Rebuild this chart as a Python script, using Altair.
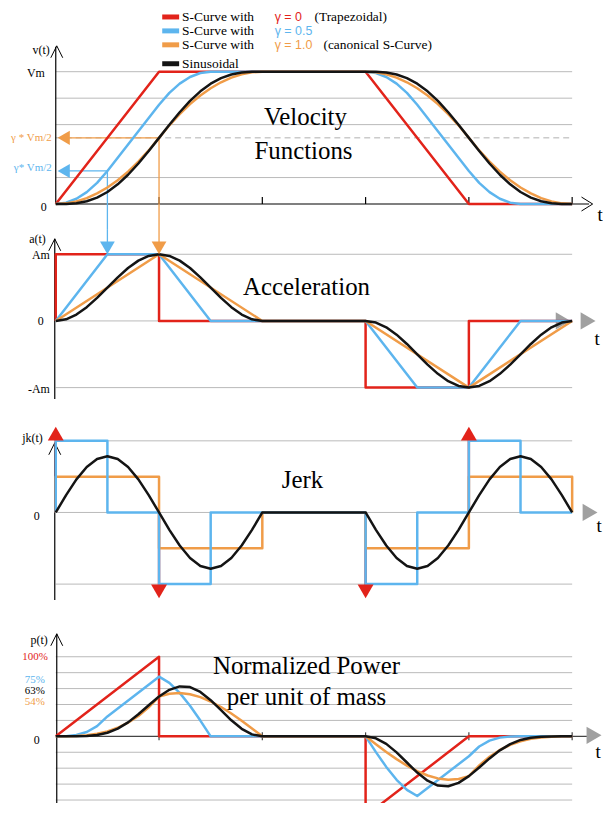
import altair as alt
import pandas as pd

# ---------------- data (time in units of the accel phase, values normalised) ----------------
T_FULL = [0.0, 0.1, 0.2, 0.3, 0.4, 0.5, 0.6, 0.7, 0.8, 0.9, 1.0, 1.1, 1.2, 1.3, 1.4, 1.5, 1.6, 1.7, 1.8, 1.9, 2.0,
          3.0, 3.1, 3.2, 3.3, 3.4, 3.5, 3.6, 3.7, 3.8, 3.9, 4.0, 4.1, 4.2, 4.3, 4.4, 4.5, 4.6, 4.7, 4.8, 4.9, 5.0]

# velocity
VEL_RED_T = [0, 1, 3, 4, 5]
VEL_RED = [0, 1, 1, 0, 0]
VEL_BLUE_T = [0, 0.1, 0.2, 0.3, 0.4, 0.5, 1.0, 1.1, 1.2, 1.3, 1.4, 1.5,
              3.0, 3.1, 3.2, 3.3, 3.4, 3.5, 4.0, 4.1, 4.2, 4.3, 4.4, 4.5, 5.0]
VEL_BLUE = [0, 0.01, 0.04, 0.09, 0.16, 0.25, 0.75, 0.84, 0.91, 0.96, 0.99, 1.0,
            1.0, 0.99, 0.96, 0.91, 0.84, 0.75, 0.25, 0.16, 0.09, 0.04, 0.01, 0.0, 0.0]
VEL_ORANGE = [0, 0.005, 0.02, 0.045, 0.08, 0.125, 0.18, 0.245, 0.32, 0.405, 0.5, 0.595, 0.68, 0.755, 0.82, 0.875,
              0.92, 0.955, 0.98, 0.995, 1.0,
              1.0, 0.995, 0.98, 0.955, 0.92, 0.875, 0.82, 0.755, 0.68, 0.595, 0.5, 0.405, 0.32, 0.245, 0.18, 0.125,
              0.08, 0.045, 0.02, 0.005, 0.0]
VEL_BLACK = [0, 0.0008, 0.0064, 0.0212, 0.0486, 0.0908, 0.1486, 0.2212, 0.3064, 0.4008, 0.5, 0.5992, 0.6936, 0.7788,
             0.8514, 0.9092, 0.9514, 0.9788, 0.9936, 0.9992, 1.0,
             1.0, 0.9992, 0.9936, 0.9788, 0.9514, 0.9092, 0.8514, 0.7788, 0.6936, 0.5992, 0.5, 0.4008, 0.3064,
             0.2212, 0.1486, 0.0908, 0.0486, 0.0212, 0.0064, 0.0008, 0.0]
VEL_GRID = [0.2, 0.6, 0.8, 1.0]
VEL_HALF = [0.5]
GUIDE_T = [0.5, 1.0]          # blue (gamma=0.5), orange (gamma=1)
GUIDE_V = [0.25, 0.5]         # gamma * Vm / 2

# acceleration
ACC_RED_T = [0, 0, 1, 1, 3, 3, 4, 4, 5]
ACC_RED = [0, 1, 1, 0, 0, -1, -1, 0, 0]
ACC_BLUE_T = [0, 0.5, 1.0, 1.5, 3.0, 3.5, 4.0, 4.5, 5.0]
ACC_BLUE = [0, 1, 1, 0, 0, -1, -1, 0, 0]
ACC_ORANGE_T = [0, 1, 2, 3, 4, 5]
ACC_ORANGE = [0, 1, 0, 0, -1, 0]
ACC_BLACK = [0, 0.0245, 0.0955, 0.2061, 0.3455, 0.5, 0.6545, 0.7939, 0.9045, 0.9755, 1.0, 0.9755, 0.9045, 0.7939,
             0.6545, 0.5, 0.3455, 0.2061, 0.0955, 0.0245, 0.0,
             0.0, -0.0245, -0.0955, -0.2061, -0.3455, -0.5, -0.6545, -0.7939, -0.9045, -0.9755, -1.0, -0.9755,
             -0.9045, -0.7939, -0.6545, -0.5, -0.3455, -0.2061, -0.0955, -0.0245, 0.0]
ACC_GRID = [1, 0, -1]

# jerk
JRK_BLUE_T = [0, 0, 0.5, 0.5, 1, 1, 1.5, 1.5, 3, 3, 3.5, 3.5, 4, 4, 4.5, 4.5, 5]
JRK_BLUE = [0, 2, 2, 0, 0, -2, -2, 0, 0, -2, -2, 0, 0, 2, 2, 0, 0]
JRK_ORANGE_T = [0, 0, 1, 1, 2, 2, 3, 3, 4, 4, 5, 5]
JRK_ORANGE = [0, 1, 1, -1, -1, 0, 0, -1, -1, 1, 1, 0]
JRK_BLACK = [0, 0.485, 0.923, 1.271, 1.494, 1.571, 1.494, 1.271, 0.923, 0.485, 0.0, -0.485, -0.923, -1.271, -1.494,
             -1.571, -1.494, -1.271, -0.923, -0.485, 0.0,
             0.0, -0.485, -0.923, -1.271, -1.494, -1.571, -1.494, -1.271, -0.923, -0.485, 0.0, 0.485, 0.923, 1.271,
             1.494, 1.571, 1.494, 1.271, 0.923, 0.485, 0.0]
JRK_RED_T = [0, 1, 3, 4]          # jerk impulses of the trapezoidal profile
JRK_RED_SIGN = [1, -1, -1, 1]
JRK_GRID = [2, 0, -2]

# power
PWR_RED_T = [0, 1, 1, 3, 3, 4, 5]
PWR_RED = [0, 1, 0, 0, -1, 0, 0]
PWR_BLUE_T = [0, 0.1, 0.2, 0.3, 0.4, 0.5, 1.0, 1.1, 1.2, 1.3, 1.4, 1.5,
              3.0, 3.1, 3.2, 3.3, 3.4, 3.5, 4.0, 4.1, 4.2, 4.3, 4.4, 4.5, 5.0]
PWR_BLUE = [0, 0.002, 0.016, 0.054, 0.128, 0.25, 0.75, 0.672, 0.546, 0.384, 0.198, 0.0,
            0.0, -0.198, -0.384, -0.546, -0.672, -0.75, -0.25, -0.128, -0.054, -0.016, -0.002, 0.0, 0.0]
PWR_ORANGE = [0, 0.0005, 0.004, 0.0135, 0.032, 0.0625, 0.108, 0.1715, 0.256, 0.3645, 0.5, 0.5355, 0.544, 0.5285,
              0.492, 0.4375, 0.368, 0.2865, 0.196, 0.0995, 0.0,
              0.0, -0.0995, -0.196, -0.2865, -0.368, -0.4375, -0.492, -0.5285, -0.544, -0.5355, -0.5, -0.3645,
              -0.256, -0.1715, -0.108, -0.0625, -0.032, -0.0135, -0.004, -0.0005, 0.0]
PWR_BLACK = [0, 0.0, 0.0006, 0.0044, 0.0168, 0.0454, 0.0973, 0.1756, 0.2771, 0.391, 0.5, 0.5845, 0.6274, 0.6184,
             0.5572, 0.4546, 0.3287, 0.2016, 0.0949, 0.0245, 0.0,
             0.0, -0.0245, -0.0949, -0.2016, -0.3287, -0.4546, -0.5572, -0.6184, -0.6274, -0.5845, -0.5, -0.391,
             -0.2771, -0.1756, -0.0973, -0.0454, -0.0168, -0.0044, -0.0006, 0.0, 0.0]
PWR_GRID = [1.0, 0.8, 0.6, 0.4, 0.2, -0.2, -0.4, -0.6, -0.8]

TICKS_T = [1, 2, 3, 4, 5]
T_END = 5

# ---------------- styling / layout ----------------
RED = '#e2231a'
BLUE = '#5db5ee'
ORANGE = '#f09c48'
BLACK = '#141414'
GRID = '#b9b9b9'
AGRAY = '#a0a0a0'
SERIF = "'Liberation Serif', 'Times New Roman', Times, serif"
SANS = "'Liberation Sans', Arial, sans-serif"
LW = 2.5

M = 8
W = 598
X_ZERO = 56.0
PX_T = 103.8
XS = alt.Scale(domain=[(M - X_ZERO) / PX_T, (M + W - X_ZERO) / PX_T], nice=False, zero=False)

def panel(top, h, zero, ppu):
    p = dict(top=top, h=h, zero=zero, ppu=ppu)
    p['lo'] = (zero - (top + h)) / ppu
    p['hi'] = (zero - top) / ppu
    p['ys'] = alt.Scale(domain=[p['lo'], p['hi']], nice=False, zero=False)
    return p

PV = panel(8, 220, 202.0, 133.0)
PA = panel(228, 187, 319.5, 67.0)
PJ = panel(415, 200, 512.0, 36.0)
PP = panel(615, 189, 737.0, 80.0)

ONE = pd.DataFrame({'k': [0]})


def X(f):
    return alt.X(f + ':Q', scale=XS, axis=None)


def Y(p, f):
    return alt.Y(f + ':Q', scale=p['ys'], axis=None)


def curve(p, t, y, color, width=LW):
    df = pd.DataFrame({'t': t, 'y': y, 'i': list(range(len(t)))})
    return alt.Chart(df).mark_line(color=color, strokeWidth=width, clip=True, strokeJoin='round').encode(
        x=X('t'), y=Y(p, 'y'), order=alt.Order('i:Q'))


def hrules(p, ys_, color=GRID, width=1.0, dash=None, t0=0, t1=T_END):
    df = pd.DataFrame({'y': ys_, 't0': [t0] * len(ys_), 't1': [t1] * len(ys_)})
    kw = dict(color=color, strokeWidth=width)
    if dash:
        kw['strokeDash'] = dash
    return alt.Chart(df).mark_rule(**kw).encode(x=X('t0'), x2='t1:Q', y=Y(p, 'y'))


def vrules(p, ts, y0, y1, color, width=1.0):
    df = pd.DataFrame({'t': ts, 'y0': y0, 'y1': y1})
    return alt.Chart(df).mark_rule(color=color, strokeWidth=width).encode(x=X('t'), y=Y(p, 'y0'), y2='y1:Q')


def sym(p, ts, ys_, shape, color, size, filled=True, sw=1.0):
    df = pd.DataFrame({'t': ts, 'y': ys_})
    return alt.Chart(df).mark_point(shape=shape, color=color, size=size, filled=filled, opacity=1,
                                    strokeWidth=sw).encode(x=X('t'), y=Y(p, 'y'))


def txt(p, s, x, y, size=12, color='black', font=SERIF, align='left', baseline='middle'):
    return alt.Chart(ONE).mark_text(text=s, fontSize=size, color=color, font=font, align=align,
                                    baseline=baseline).encode(x=alt.value(x - M), y=alt.value(y - p['top']))


def prule(p, x0, y0, x1, y1, color='black', width=1.0):
    return alt.Chart(ONE).mark_rule(color=color, strokeWidth=width).encode(
        x=alt.value(x0 - M), x2=alt.value(x1 - M), y=alt.value(y0 - p['top']), y2=alt.value(y1 - p['top']))


def psym(p, x, y, shape, color, size, filled=True, sw=1.0):
    return alt.Chart(ONE).mark_point(shape=shape, color=color, size=size, filled=filled, opacity=1,
                                     strokeWidth=sw).encode(x=alt.value(x - M), y=alt.value(y - p['top']))


OPEN_UP = 'M-1,1L0,-1L1,1'
OPEN_RIGHT = 'M-0.8,-1L0.8,0L-0.8,1'

# ---------------- velocity panel ----------------
gl = []
gl.append(hrules(PV, VEL_GRID))
gl.append(hrules(PV, VEL_HALF, color='#b0b0b0', dash=[6, 4]))
gl.append(prule(PV, 56, 202, 592, 202, 'black', 1.2))
gl.append(prule(PV, 56, 44, 56, 202, 'black', 1.2))
gl.append(psym(PV, 57, 49, OPEN_UP, 'black', 144, filled=False))
gl.append(psym(PV, 590, 202, OPEN_RIGHT, 'black', 196, filled=False))
gl.append(vrules(PV, TICKS_T, [0] * 5, [7 / PV['ppu']] * 5, 'black', 1.2))
# guide lines gamma*Vm/2
arrow_t = 8.0 / PX_T
guide_cols = [BLUE, ORANGE]
for gt, gv, gc in zip(GUIDE_T, GUIDE_V, guide_cols):
    gl.append(alt.Chart(pd.DataFrame({'t0': [arrow_t], 't1': [gt], 'y': [gv]})).mark_rule(color=gc, strokeWidth=1.3)
              .encode(x=X('t0'), x2='t1:Q', y=Y(PV, 'y')))
    gl.append(vrules(PV, [gt], [gv], [PV['lo']], gc, 1.3))
    gl.append(sym(PV, [arrow_t], [gv], 'triangle-left', gc, 200))
gl.append(curve(PV, VEL_RED_T, VEL_RED, RED))
gl.append(curve(PV, VEL_BLUE_T, VEL_BLUE, BLUE))
gl.append(curve(PV, T_FULL, VEL_ORANGE, ORANGE))
gl.append(curve(PV, T_FULL, VEL_BLACK, BLACK))
# labels
gl.append(txt(PV, 'v(t)', 50, 47, 12, align='right'))
gl.append(txt(PV, 'Vm', 45, 70, 12, align='right'))
gl.append(txt(PV, '0', 47, 205, 12, align='right'))
gl.append(txt(PV, 'γ * Vm/2', 52, 136, 11, ORANGE, align='right'))
gl.append(txt(PV, 'γ* Vm/2', 52, 166, 11, BLUE, align='right'))
gl.append(txt(PV, 't', 603, 213, 19, align='center'))
gl.append(txt(PV, 'Velocity', 307, 123, 25, align='center', baseline='alphabetic'))
gl.append(txt(PV, 'Functions', 305, 157, 25, align='center', baseline='alphabetic'))
# legend
leg_rows = [(14, RED, 'γ = 0', '(Trapezoidal)', 316), (28, BLUE, 'γ = 0.5', '', 0),
            (42, ORANGE, 'γ = 1.0', '(canonical S-Curve)', 325)]
for yy, cc, gtxt, extra, ex in leg_rows:
    gl.append(prule(PV, 163, yy, 180, yy, cc, 5))
    gl.append(txt(PV, 'S-Curve with', 183, yy, 13.5))
    gl.append(txt(PV, gtxt, 276, yy, 12.5, cc, font=SANS))
    if extra:
        gl.append(txt(PV, extra, ex, yy, 13.5))
gl.append(prule(PV, 163, 61, 180, 61, BLACK, 5))
gl.append(txt(PV, 'Sinusoidal', 183, 61, 13.5))
vel = alt.layer(*gl).properties(width=W, height=PV['h'])

# ---------------- acceleration panel ----------------
al = []
al.append(hrules(PA, ACC_GRID))
al.append(prule(PA, 55, 237, 55, 398, 'black', 1.2))
al.append(psym(PA, 55, 243, OPEN_UP, 'black', 144, filled=False))
al.append(psym(PA, 566, 319.5, 'triangle-right', AGRAY, 300))
al.append(psym(PA, 591, 319.5, 'triangle-right', AGRAY, 300))
tip = 1 + 6.5 / PA['ppu']
for gt, gc in zip(GUIDE_T, guide_cols):
    al.append(vrules(PA, [gt], [PA['hi']], [tip], gc, 1.3))
al.append(curve(PA, ACC_RED_T, ACC_RED, RED))
al.append(curve(PA, ACC_BLUE_T, ACC_BLUE, BLUE))
al.append(curve(PA, ACC_ORANGE_T, ACC_ORANGE, ORANGE))
al.append(curve(PA, T_FULL, ACC_BLACK, BLACK))
for gt, gc in zip(GUIDE_T, guide_cols):
    al.append(sym(PA, [gt], [tip], 'triangle-down', gc, 220))
al.append(txt(PA, 'a(t)', 46, 237, 12, align='right'))
al.append(txt(PA, 'Am', 50, 253, 12, align='right'))
al.append(txt(PA, '0', 44, 320, 12, align='right'))
al.append(txt(PA, '-Am', 50, 388, 12, align='right'))
al.append(txt(PA, 't', 600, 338, 19, align='center'))
al.append(txt(PA, 'Acceleration', 308, 293, 25, align='center', baseline='alphabetic'))
acc = alt.layer(*al).properties(width=W, height=PA['h'])

# ---------------- jerk panel ----------------
jl = []
jl.append(hrules(PJ, JRK_GRID))
jl.append(prule(PJ, 55, 442, 55, 600, 'black', 1.2))
jl.append(psym(PJ, 55, 448, OPEN_UP, 'black', 144, filled=False))
jl.append(psym(PJ, 593, 512, 'triangle-right', AGRAY, 300))
red_tip = [2.05 * s for s in JRK_RED_SIGN]
jl.append(vrules(PJ, JRK_RED_T, [0] * 4, red_tip, RED, 2.4))
jl.append(curve(PJ, JRK_ORANGE_T, JRK_ORANGE, ORANGE))
jl.append(curve(PJ, JRK_BLUE_T, JRK_BLUE, BLUE))
jl.append(curve(PJ, T_FULL, JRK_BLACK, BLACK))
up_t = [t for t, s in zip(JRK_RED_T, JRK_RED_SIGN) if s > 0]
dn_t = [t for t, s in zip(JRK_RED_T, JRK_RED_SIGN) if s < 0]
jl.append(sym(PJ, up_t, [2.2] * len(up_t), 'triangle-up', RED, 256))
jl.append(sym(PJ, dn_t, [-2.2] * len(dn_t), 'triangle-down', RED, 256))
jl.append(txt(PJ, 'jk(t)', 43, 437, 12, align='right'))
jl.append(txt(PJ, '0', 40, 516, 12, align='right'))
jl.append(txt(PJ, 't', 602, 526, 19, align='center'))
jl.append(txt(PJ, 'Jerk', 304, 487, 25, align='center', baseline='alphabetic'))
jrk = alt.layer(*jl).properties(width=W, height=PJ['h'])

# ---------------- power panel ----------------
pl = []
pl.append(hrules(PP, PWR_GRID))
pl.append(prule(PP, 57, 737, 590, 737, '#444444', 1.2))
pl.append(prule(PP, 57, 634, 57, 804, 'black', 1.2))
pl.append(psym(PP, 57, 640, OPEN_UP, 'black', 144, filled=False))
pl.append(psym(PP, 597, 736, 'triangle-right', AGRAY, 300))
pl.append(vrules(PP, TICKS_T, [-4 / PP['ppu']] * 5, [4 / PP['ppu']] * 5, '#444444', 1.2))
pl.append(curve(PP, PWR_RED_T, PWR_RED, RED))
pl.append(curve(PP, PWR_BLUE_T, PWR_BLUE, BLUE))
pl.append(curve(PP, T_FULL, PWR_ORANGE, ORANGE))
pl.append(curve(PP, T_FULL, PWR_BLACK, BLACK))
pl.append(txt(PP, 'p(t)', 48, 640, 12, align='right'))
pl.append(txt(PP, '100%', 48, 657, 11, RED, align='right'))
pl.append(txt(PP, '75%', 45, 680, 11, BLUE, align='right'))
pl.append(txt(PP, '63%', 45, 691, 11, 'black', align='right'))
pl.append(txt(PP, '54%', 45, 703, 11, ORANGE, align='right'))
pl.append(txt(PP, '0', 40, 741, 12, align='right'))
pl.append(txt(PP, 't', 601, 753, 19, align='center'))
pl.append(txt(PP, 'Normalized Power', 308, 674, 25, align='center', baseline='alphabetic'))
pl.append(txt(PP, 'per unit of mass', 308, 705, 25, align='center', baseline='alphabetic'))
pwr = alt.layer(*pl).properties(width=W, height=PP['h'])

chart = alt.vconcat(vel, acc, jrk, pwr, spacing=0, bounds='flush', padding=0).configure_view(stroke=None)
chart.save("out.html", embed_options={"renderer": "svg", "actions": False})
